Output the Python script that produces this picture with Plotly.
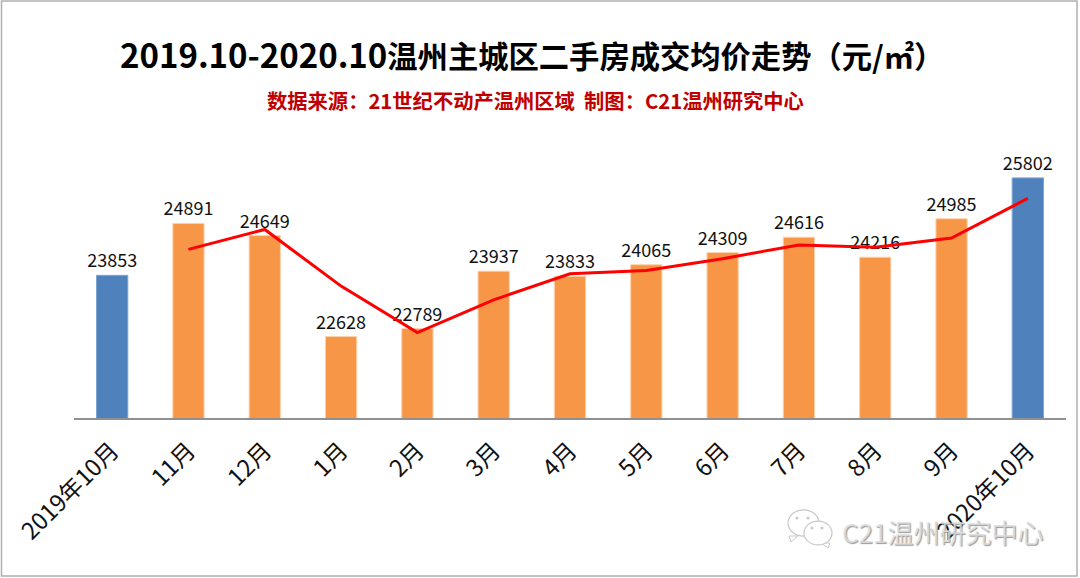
import plotly.graph_objects as go

categories = ["2019年10月", "11月", "12月", "1月", "2月", "3月", "4月", "5月", "6月", "7月", "8月", "9月", "2020年10月"]
prices = [23853, 24891, 24649, 22628, 22789, 23937, 23833, 24065, 24309, 24616, 24216, 24985, 25802]
trend = [None, 24372, 24770, 23638, 22708, 23363, 23885, 23949, 24187, 24462, 24416, 24600, 25393]
bar_colors = ["#4f81bd"] + ["#f79646"] * 11 + ["#4f81bd"]
edge_colors = ["#7fa3d0"] + ["#fbd2ae"] * 11 + ["#7fa3d0"]

CJK = "Noto Sans CJK SC"
W, H = 1080, 578
L, R, T, B = 74, 14, 118, 160
PW, PH = W - L - R, H - T - B


def px(x):
    return (x - L) / PW


def py(y):
    return 1 - (y - T) / PH


fig = go.Figure()
fig.add_trace(go.Bar(
    x=categories, y=prices, width=0.41,
    marker=dict(color=bar_colors, line=dict(color=edge_colors, width=1)),
    text=prices, textposition="outside", cliponaxis=False, constraintext="none",
    textfont=dict(family=CJK, size=18, color="#111111"),
    hoverinfo="x+y",
))
fig.add_trace(go.Scatter(
    x=categories, y=trend, mode="lines",
    line=dict(color="#ff0000", width=3),
    hoverinfo="x+y",
))

shapes = [dict(type="rect", xref="paper", yref="paper",
               x0=px(1.5), x1=px(1077), y0=py(576), y1=py(1),
               line=dict(color="#b0b0b0", width=1.5), fillcolor="rgba(0,0,0,0)", layer="below")]

ICON = "#c8c8c8"
for (tx, ty, dx, dy) in [(793, 536, -2, 6), (825, 543, 3, 5)]:
    shapes.append(dict(type="path", xref="paper", yref="paper",
                       path=f"M {px(tx - 4)} {py(ty)} L {px(tx + dx)} {py(ty + dy)} L {px(tx + 5)} {py(ty)} Z",
                       line=dict(color=ICON, width=1), fillcolor="#ffffff"))
for cx, cy, r in [(803.5, 523, 15.5), (818, 533, 14)]:
    shapes.append(dict(type="circle", xref="paper", yref="paper",
                       x0=px(cx - r), x1=px(cx + r), y0=py(cy + r * 0.85), y1=py(cy - r * 0.85),
                       line=dict(color=ICON, width=1.2), fillcolor="#ffffff"))
for cx, cy in [(797, 518), (808, 518), (812, 528), (822, 528)]:
    shapes.append(dict(type="circle", xref="paper", yref="paper",
                       x0=px(cx - 1.5), x1=px(cx + 1.5), y0=py(cy + 1.5), y1=py(cy - 1.5),
                       line=dict(color=ICON, width=0), fillcolor=ICON))

title_text = ('<b><span style="font-size:33px">2019.10-2020.10</span>'
              "温州主城区二手房成交均价走势（元/㎡）</b>")
annotations = [
    dict(text=title_text,
         xref="paper", yref="paper", x=px(531.5), y=py(54), xanchor="center", yanchor="middle",
         showarrow=False, font=dict(family=CJK, size=30.3, color="#000000")),
    dict(text="<b>数据来源：21世纪不动产温州区域  制图：C21温州研究中心</b>",
         xref="paper", yref="paper", x=px(535), y=py(100), xanchor="center", yanchor="middle",
         showarrow=False, font=dict(family=CJK, size=20.3, color="#c00000")),
    dict(text="C21温州研究中心",
         xref="paper", yref="paper", x=px(1045), y=py(531), xanchor="right", yanchor="middle",
         showarrow=False,
         font=dict(family=CJK, size=26, color="rgba(222,222,222,0.85)", shadow="1px 1px 1px #888888")),
]

fig.update_layout(
    width=W, height=H, autosize=False,
    margin=dict(l=L, r=R, t=T, b=B),
    paper_bgcolor="#ffffff", plot_bgcolor="#ffffff",
    showlegend=False,
    shapes=shapes, annotations=annotations,
    xaxis=dict(type="category", categoryorder="array", categoryarray=categories,
               tickangle=-45, ticks="", showgrid=False, ticklabelstandoff=8,
               showline=True, linecolor="#909090", linewidth=1.5,
               tickfont=dict(family=CJK, size=23.5, color="#111111")),
    yaxis=dict(range=[21000, 27000], visible=False, showgrid=False, zeroline=False),
)
fig.write_html("out.html", config=dict(displayModeBar=False),
               post_script="document.body.style.margin='0';document.body.style.overflow='hidden';")
